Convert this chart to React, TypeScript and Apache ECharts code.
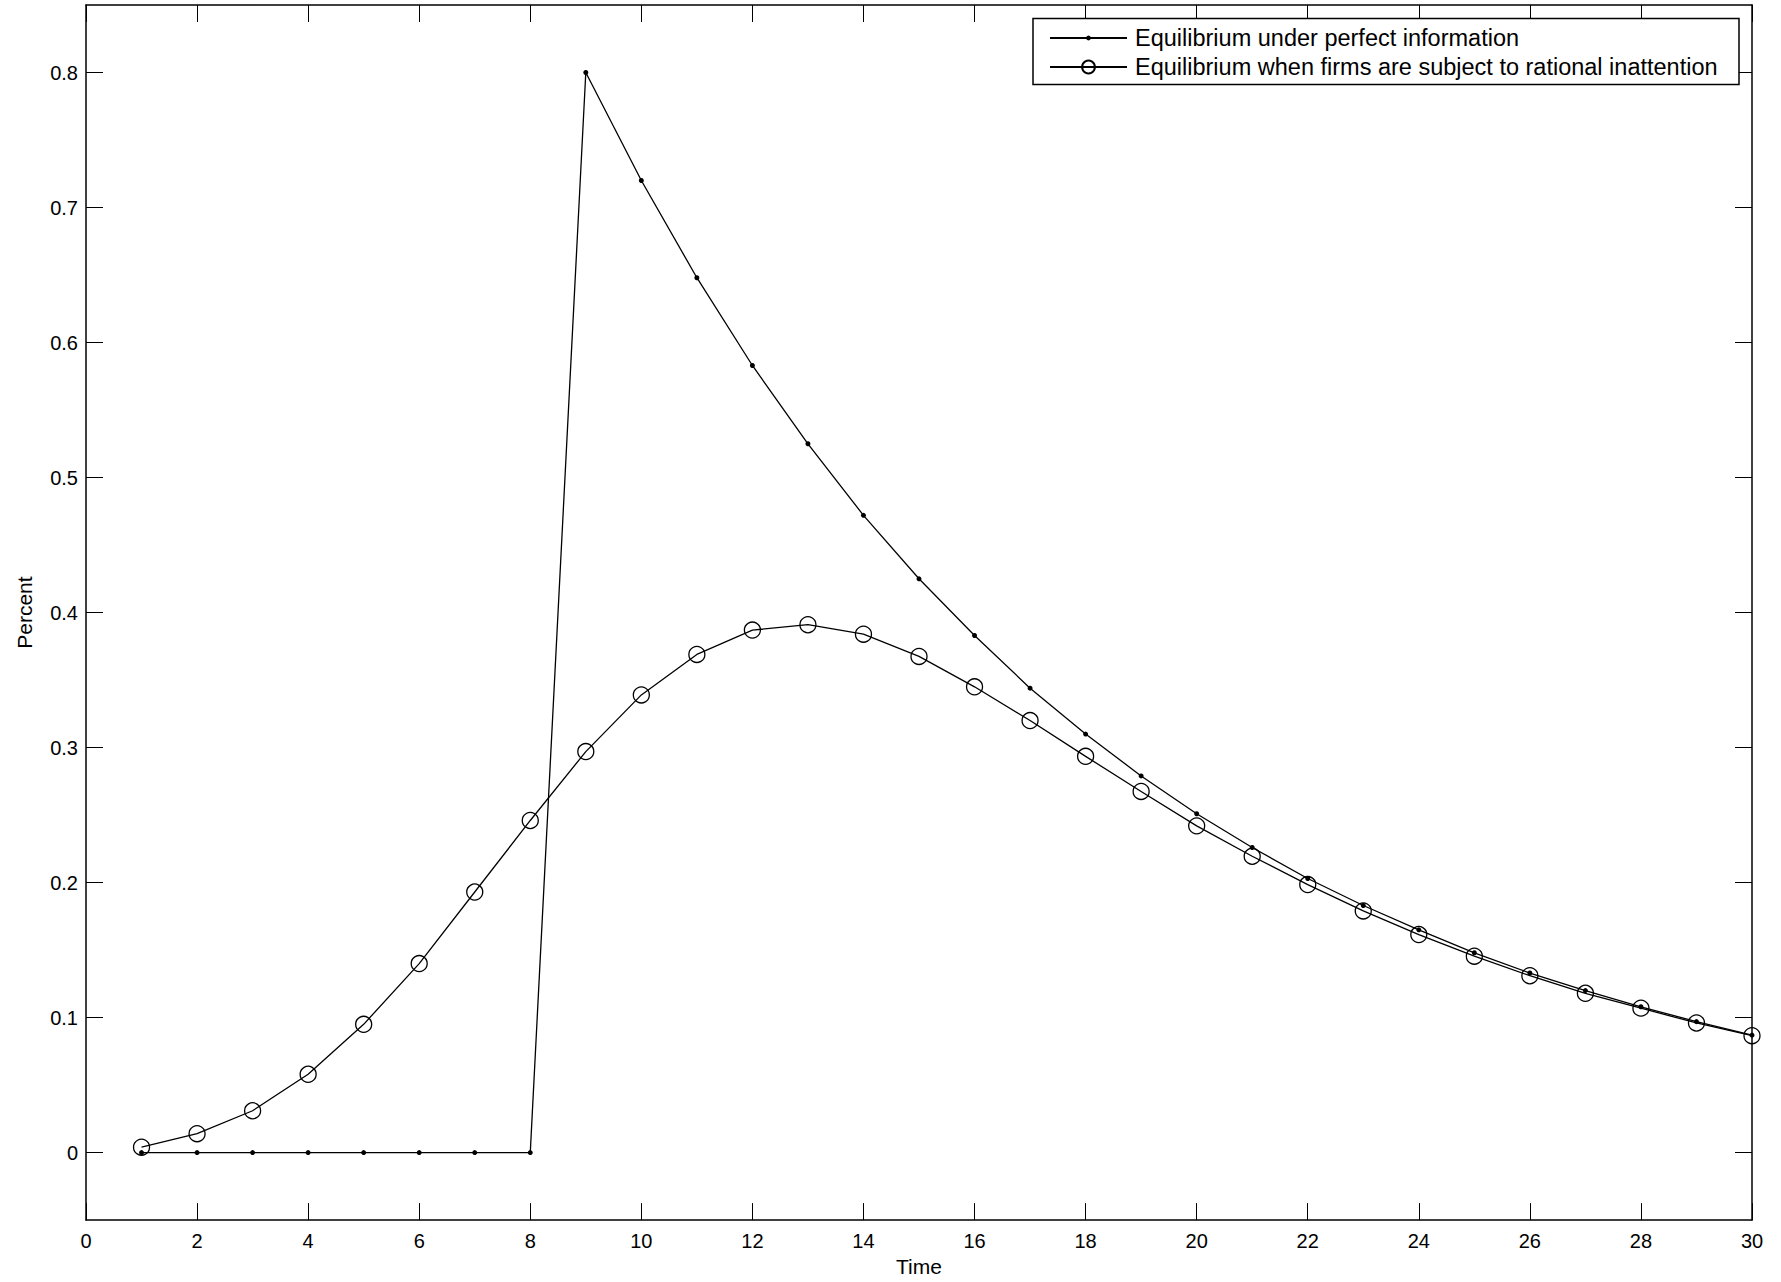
import React, { useEffect, useRef } from "react";
import * as echarts from "echarts";

const times = [1, 2, 3, 4, 5, 6, 7, 8, 9, 10, 11, 12, 13, 14, 15, 16, 17, 18, 19, 20, 21, 22, 23, 24, 25, 26, 27, 28, 29, 30];
const perfectInfo = [0, 0, 0, 0, 0, 0, 0, 0, 0.8, 0.72, 0.648, 0.583, 0.525, 0.472, 0.425, 0.383, 0.344, 0.31, 0.279, 0.251, 0.226, 0.203, 0.183, 0.165, 0.148, 0.133, 0.12, 0.108, 0.097, 0.087];
const rationalInattention = [0.004, 0.014, 0.031, 0.058, 0.095, 0.14, 0.193, 0.246, 0.297, 0.339, 0.369, 0.387, 0.391, 0.384, 0.3675, 0.345, 0.32, 0.2935, 0.2675, 0.242, 0.2195, 0.1985, 0.179, 0.1615, 0.1455, 0.131, 0.118, 0.107, 0.096, 0.0866];
const yTicks = [0, 0.1, 0.2, 0.3, 0.4, 0.5, 0.6, 0.7, 0.8];
const seriesNames = [
  "Equilibrium under perfect information",
  "Equilibrium when firms are subject to rational inattention",
];

const FONT = "'Liberation Sans', Arial, Helvetica, sans-serif";
const LEGEND_FS = 23.5;

export default function App() {
  const ref = useRef<HTMLDivElement>(null);
  useEffect(() => {
    if (!ref.current) return;
    const chart = echarts.init(ref.current, undefined, { renderer: "svg" });
    const axisLine = { show: true, onZero: false, lineStyle: { color: "#000", width: 1.5 } };
    const tick = { show: true, inside: true, length: 17, lineStyle: { color: "#000", width: 1 } };
    const xBase = {
      type: "value",
      min: 0,
      max: 30,
      interval: 2,
      splitLine: { show: false },
      axisLine,
      axisTick: tick,
    };
    const yBase = {
      type: "value",
      min: -0.05,
      max: 0.85,
      splitLine: { show: false },
      axisLine,
      axisTick: { ...tick, customValues: yTicks },
    };
    chart.setOption({
      animation: false,
      backgroundColor: "#fff",
      textStyle: { fontFamily: FONT },
      grid: { left: 86, right: 29, top: 5, bottom: 61 },
      xAxis: [
        {
          ...xBase,
          position: "bottom",
          name: "Time",
          nameLocation: "middle",
          nameGap: 35,
          nameTextStyle: { fontSize: 21, color: "#000", fontFamily: FONT },
          axisLabel: { show: true, margin: 11, fontSize: 20, color: "#000", fontFamily: FONT },
        },
        {
          ...xBase,
          position: "top",
          axisLabel: { show: false },
        },
      ],
      yAxis: [
        {
          ...yBase,
          position: "left",
          name: "Percent",
          nameLocation: "middle",
          nameRotate: 90,
          nameGap: 51,
          nameTextStyle: { fontSize: 21, color: "#000", fontFamily: FONT },
          axisLabel: {
            show: true,
            margin: 8,
            fontSize: 20,
            color: "#000",
            fontFamily: FONT,
            customValues: yTicks,
            formatter: (v: number) => String(v),
          },
        },
        {
          ...yBase,
          position: "right",
          axisLabel: { show: false },
        },
      ],
      graphic: [
        {
          type: "rect",
          z: 3,
          shape: { x: 1033, y: 18.5, width: 706, height: 66 },
          style: { fill: "#fff", stroke: "#000", lineWidth: 1.5 },
        },
      ],
      legend: [
        {
          data: [seriesNames[0]],
          left: 1049,
          top: 26,
          padding: 0,
          itemWidth: 77,
          itemHeight: 6,
          itemGap: 0,
          z: 5,
          textStyle: { fontSize: LEGEND_FS, color: "#000", fontFamily: FONT, padding: [0, 0, 0, 3] },
        },
        {
          data: [seriesNames[1]],
          left: 1049,
          top: 55,
          padding: 0,
          itemWidth: 77,
          itemHeight: 16,
          itemGap: 0,
          z: 5,
          textStyle: { fontSize: LEGEND_FS, color: "#000", fontFamily: FONT, padding: [0, 0, 0, 3] },
        },
      ],
      series: [
        {
          name: seriesNames[1],
          type: "line",
          data: times.map((t, i) => [t, rationalInattention[i]]),
          symbol: "circle",
          symbolSize: 16,
          showAllSymbol: true,
          lineStyle: { color: "#000", width: 1.3 },
          itemStyle: { color: "rgba(0,0,0,0)", borderColor: "#000", borderWidth: 1.3 },
          emphasis: { disabled: true },
        },
        {
          name: seriesNames[0],
          type: "line",
          data: times.map((t, i) => [t, perfectInfo[i]]),
          symbol: "circle",
          symbolSize: 5,
          showAllSymbol: true,
          lineStyle: { color: "#000", width: 1.3 },
          itemStyle: { color: "#000" },
          emphasis: { disabled: true },
        },
      ],
    });
    return () => chart.dispose();
  }, []);
  return (
    <div
      ref={ref}
      style={{ position: "fixed", left: 0, top: 0, width: 1781, height: 1282, background: "#fff" }}
    />
  );
}
